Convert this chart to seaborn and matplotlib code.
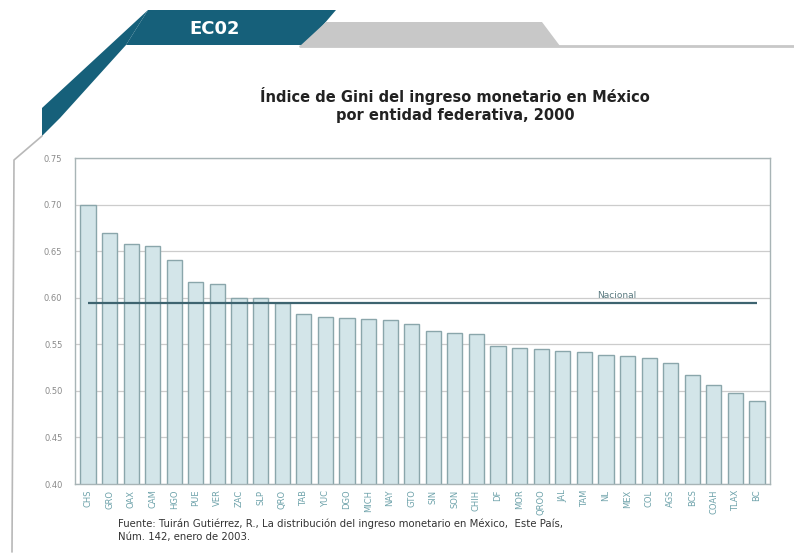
import numpy as np
import pandas as pd
import matplotlib
matplotlib.use('Agg')
import matplotlib.pyplot as plt
from matplotlib.patches import Polygon
from matplotlib.lines import Line2D
import seaborn as sns

# datos
entidades = ['CHS', 'GRO', 'OAX', 'CAM', 'HGO', 'PUE', 'VER', 'ZAC', 'SLP', 'QRO',
             'TAB', 'YUC', 'DGO', 'MICH', 'NAY', 'GTO', 'SIN', 'SON', 'CHIH', 'DF',
             'MOR', 'QROO', 'JAL', 'TAM', 'NL', 'MEX', 'COL', 'AGS', 'BCS', 'COAH',
             'TLAX', 'BC']
gini = [0.700, 0.669, 0.658, 0.655, 0.640, 0.617, 0.615, 0.600, 0.600, 0.594,
        0.582, 0.579, 0.578, 0.577, 0.576, 0.572, 0.564, 0.562, 0.561, 0.548,
        0.546, 0.545, 0.543, 0.542, 0.538, 0.537, 0.535, 0.530, 0.517, 0.506,
        0.498, 0.489]
nacional = 0.594
y_ticks = [0.40, 0.45, 0.50, 0.55, 0.60, 0.65, 0.70, 0.75]

titulo = 'Índice de Gini del ingreso monetario en México\npor entidad federativa, 2000'
fuente = ('Fuente: Tuirán Gutiérrez, R., La distribución del ingreso monetario en México,  Este País,\n'
          'Núm. 142, enero de 2003.')

TEAL = '#16607a'

sns.set_theme(style='white')
plt.rcParams['font.family'] = ['DejaVu Sans']

fig = plt.figure(figsize=(7.94, 5.6), dpi=100)
W, H = 794, 560

def px(x, y):
    return (x / W, 1 - y / H)

# encabezado decorativo
banner = Polygon([px(148, 10), px(336, 10), px(306, 45), px(126, 45)],
                 closed=True, transform=fig.transFigure, facecolor=TEAL, edgecolor='none')
fig.patches.append(banner)
banda = Polygon([px(148, 10), px(126, 45), px(60, 118), px(42, 136), px(42, 108)],
                closed=True, transform=fig.transFigure, facecolor=TEAL, edgecolor='none')
fig.patches.append(banda)
tab = Polygon([px(300, 46), px(326, 22), px(542, 22), px(560, 46)],
              closed=True, transform=fig.transFigure, facecolor='#c8c8c8', edgecolor='none')
fig.patches.append(tab)
fig.lines.append(Line2D([300 / W, 1], [1 - 46 / H, 1 - 46 / H], transform=fig.transFigure,
                        color='#c8c8c8', lw=2))
fig.lines.append(Line2D([42 / W, 14 / W, 12 / W], [1 - 136 / H, 1 - 160 / H, 1 - 552 / H],
                        transform=fig.transFigure, color='#b8b8b8', lw=1.2))
fig.text(215 / W, 1 - 29 / H, 'EC02', color='white', fontsize=13, fontweight='bold',
         ha='center', va='center')

fig.text(455 / W, 1 - 105 / H, titulo, ha='center', va='center', fontsize=10.5,
         fontweight='bold', color='#222222', linespacing=1.3)

ax = fig.add_axes([75 / W, 1 - 484 / H, 695 / W, 326 / H])
df = pd.DataFrame({'entidad': entidades, 'gini': gini})
sns.barplot(data=df, x='entidad', y='gini', color='#d3e5e9', edgecolor='#8aa6ab',
            linewidth=1, width=0.7, saturation=1, ax=ax)

ax.hlines(nacional, 0, len(entidades) - 1, color='#3e6470', lw=1.6, zorder=5)
ax.text(24.5, nacional + 0.004, 'Nacional', fontsize=6.5, color='#5a7a80',
        ha='center', va='bottom')

ax.set_ylim(0.40, 0.75)
ax.set_xlim(-0.6, len(entidades) - 0.4)
ax.set_yticks(y_ticks)
ax.set_yticklabels([f'{v:.2f}' for v in y_ticks], fontsize=6, color='#8a8a8a')
ax.set_xticks(range(len(entidades)))
ax.set_xticklabels(entidades, rotation=90, fontsize=6, color='#6fa3ab')
ax.tick_params(axis='y', length=3, color='#999999', pad=6)
ax.tick_params(axis='x', length=0, pad=4)
ax.yaxis.grid(True, color='#cccccc', lw=0.9)
ax.set_axisbelow(True)
ax.set_xlabel('')
ax.set_ylabel('')
for s in ['left', 'bottom', 'right', 'top']:
    ax.spines[s].set_visible(True)
    ax.spines[s].set_color('#a8b4b6')
    ax.spines[s].set_linewidth(1)

fig.text(118 / W, 1 - 530 / H, fuente, ha='left', va='center', fontsize=7.3,
         color='#333333', linespacing=1.35)

plt.savefig('out.png', dpi=100)
plt.close()
